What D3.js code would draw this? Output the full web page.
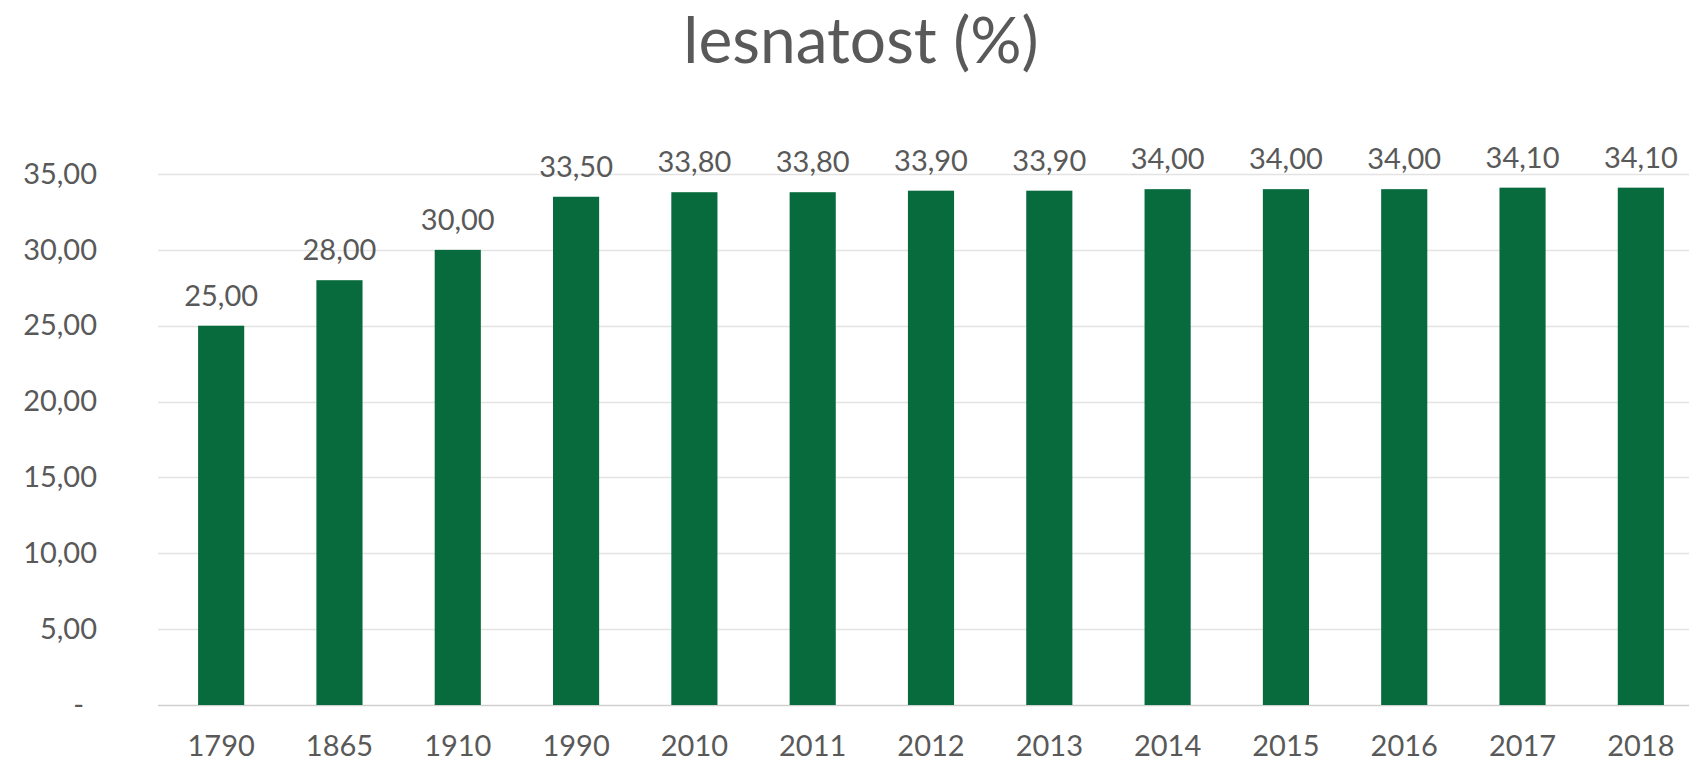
<!DOCTYPE html>
<html>
<head>
<meta charset="utf-8">
<script src="https://cdn.jsdelivr.net/npm/d3@7"></script>
<style>
  html, body { margin: 0; padding: 0; background: #ffffff; }
  svg { display: block; }
  text { font-family: Lato, "Open Sans", sans-serif; fill: #595959; }
</style>
</head>
<body>
<svg id="chart" width="1689" height="763"></svg>
<script>
// Forest cover by year (%)
const years = ["1790", "1865", "1910", "1990", "2010", "2011", "2012", "2013", "2014", "2015", "2016", "2017", "2018"];
const forestCover = [25.0, 28.0, 30.0, 33.5, 33.8, 33.8, 33.9, 33.9, 34.0, 34.0, 34.0, 34.1, 34.1];
const yTicks = [0, 5, 10, 15, 20, 25, 30, 35];
const titleText = "lesnatost (%)";

const W = 1689, H = 763;
const labelSize = 29;
const svg = d3.select("#chart");

// Number format with comma decimal separator, zero shown as a dash
const fmt = v => v === 0 ? "-" : d3.format(".2f")(v).replace(".", ",");

const x = d3.scaleBand()
  .domain(years)
  .range([162, 1700])
  .paddingInner(0.61)
  .paddingOuter(0.305);

const y = d3.scaleLinear()
  .domain([0, 35])
  .range([705, 174]);

// Horizontal gridlines
svg.append("g")
  .selectAll("line")
  .data(yTicks)
  .join("line")
  .attr("x1", 158)
  .attr("x2", W)
  .attr("y1", d => Math.round(y(d)) + 0.5)
  .attr("y2", d => Math.round(y(d)) + 0.5)
  .attr("stroke", d => d === 0 ? "#d0d0d0" : "#e3e3e3")
  .attr("stroke-width", 1.5);

// Y axis labels
const yAxis = d3.axisLeft(y)
  .tickValues(yTicks)
  .tickFormat(fmt)
  .tickSize(0)
  .tickPadding(0);

const yg = svg.append("g")
  .attr("transform", "translate(97,0)")
  .call(yAxis);
yg.select(".domain").remove();
yg.selectAll("text")
  .attr("font-size", labelSize)
  .attr("font-family", "Lato, 'Open Sans', sans-serif")
  .attr("fill", "#595959")
  .attr("dx", d => d === 0 ? -13 : 0);

// Bars
svg.append("g")
  .selectAll("rect")
  .data(forestCover)
  .join("rect")
  .attr("x", (d, i) => x(years[i]))
  .attr("width", x.bandwidth())
  .attr("y", d => y(d))
  .attr("height", d => y(0) - y(d))
  .attr("fill", "#076b3d");

// Value labels above bars
svg.append("g")
  .selectAll("text")
  .data(forestCover)
  .join("text")
  .attr("x", (d, i) => x(years[i]) + x.bandwidth() / 2)
  .attr("y", d => y(d) - 20)
  .attr("text-anchor", "middle")
  .attr("font-size", labelSize)
  .text(d => fmt(d));

// X axis labels
const xAxis = d3.axisBottom(x).tickSize(0).tickPadding(0);
const xg = svg.append("g")
  .attr("transform", "translate(0,756)")
  .call(xAxis);
xg.select(".domain").remove();
xg.selectAll("text")
  .attr("dy", 0)
  .attr("font-size", labelSize)
  .attr("font-family", "Lato, 'Open Sans', sans-serif")
  .attr("fill", "#595959");

// Title
svg.append("text")
  .attr("x", 861)
  .attr("y", 63)
  .attr("text-anchor", "middle")
  .attr("font-size", 64)
  .text(titleText);
</script>
</body>
</html>
